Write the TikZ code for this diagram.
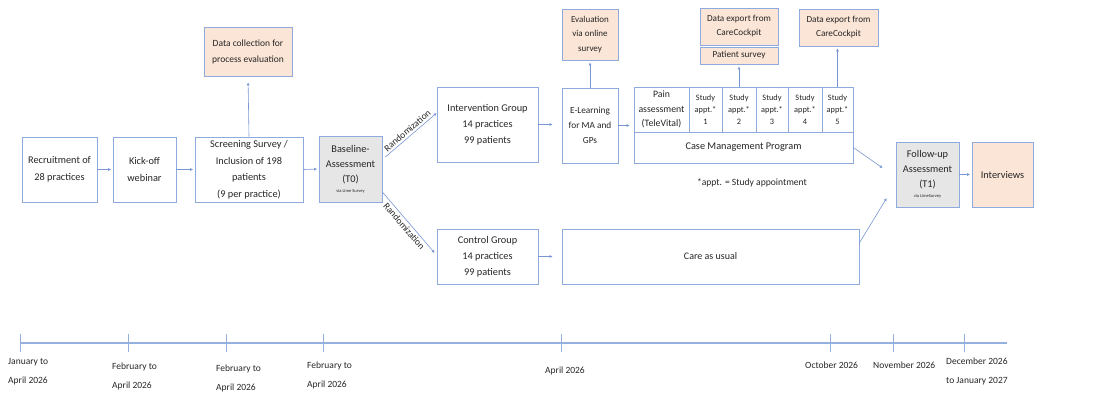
\documentclass[tikz,border=0pt]{standalone}
\usepackage{fontspec}
\setmainfont{Carlito}
\usetikzlibrary{arrows.meta}
\definecolor{bcol}{RGB}{143,170,220}
\definecolor{acol}{RGB}{68,114,196}
\definecolor{lcol}{RGB}{120,150,210}
\definecolor{peach}{RGB}{251,229,214}
\definecolor{grayf}{RGB}{231,230,230}
\definecolor{txt}{RGB}{38,38,38}
\definecolor{tlcol}{RGB}{150,176,222}
\newcommand\fsz[2]{\fontsize{#1}{#2}\selectfont}
\begin{document}
\begin{tikzpicture}[x=1pt,y=-1pt,
  box/.style={draw=bcol, line width=0.7pt, fill=white, align=center, inner sep=0pt, text=txt, font=\fsz{10.3}{16.5}},
  peachbox/.style={box, fill=peach},
  graybox/.style={box, fill=grayf},
  arr/.style={draw=lcol, line width=0.6pt, -{Latex[length=3pt,width=3pt]}, shorten >=1.5pt},
  tick/.style={draw=tlcol, line width=0.6pt},
  tlab/.style={anchor=north west, align=left, inner sep=0pt, text=txt, font=\fsz{9.5}{19}},
  rlab/.style={sloped, text=txt, font=\fsz{9.5}{11}, inner sep=2pt}
]
\useasboundingbox (0,0) rectangle (1115,394);

% main boxes
\node[box, minimum width=75pt, minimum height=65pt] (rec) at (59.5,169.5) {Recruitment of\\28 practices};
\node[box, minimum width=63pt, minimum height=65pt] (kick) at (144.5,169.5) {Kick-off\\webinar};
\node[box, minimum width=108pt, minimum height=65pt] (screen) at (249,169.5) {Screening Survey /\\Inclusion of 198\\patients\\(9 per practice)};
\node[peachbox, minimum width=88pt, minimum height=49pt, font=\fsz{9.5}{16}] (data1) at (248,51.5) {Data collection for\\process evaluation};
\node[graybox, minimum width=63pt, minimum height=66pt, font=\fsz{10.3}{15}] (base) at (350.5,169) {Baseline-\\Assessment\\(T0)\\[-5pt]{\fsz{4.5}{6}via Lime Survey}};
\node[box, minimum width=101pt, minimum height=75pt, font=\fsz{10.3}{16}] (interv) at (487.5,124.5) {Intervention Group\\14 practices\\99 patients};
\node[box, minimum width=101pt, minimum height=55pt, font=\fsz{10.3}{16}] (ctrl) at (487.5,256.5) {Control Group\\14 practices\\99 patients};

% intervention path
\node[peachbox, minimum width=56pt, minimum height=51pt, font=\fsz{9}{14.5}] (eval) at (590,34.5) {Evaluation\\via online\\survey};
\node[box, minimum width=56pt, minimum height=75pt, font=\fsz{9.3}{15}] (elearn) at (590,125.5) {E-Learning\\for MA and\\GPs};
\node[box, minimum width=55pt, minimum height=45pt, font=\fsz{9.8}{14.5}] (pain) at (661.5,109.5) {Pain\\assessment\\(TeleVital)};
\node[box, minimum width=33pt, minimum height=45pt, font=\fsz{8.3}{12}] (a1) at (705.5,109.5) {Study\\appt.*\\1};
\node[box, minimum width=34pt, minimum height=45pt, font=\fsz{8.3}{12}] (a2) at (739,109.5) {Study\\appt.*\\2};
\node[box, minimum width=32pt, minimum height=45pt, font=\fsz{8.3}{12}] (a3) at (772,109.5) {Study\\appt.*\\3};
\node[box, minimum width=34pt, minimum height=45pt, font=\fsz{8.3}{12}] (a4) at (805,109.5) {Study\\appt.*\\4};
\node[box, minimum width=31pt, minimum height=45pt, font=\fsz{8.3}{12}] (a5) at (837.5,109.5) {Study\\appt.*\\5};
\node[box, minimum width=219pt, minimum height=31pt] (cmp) at (743.5,147.5) {Case Management Program};
\node[peachbox, minimum width=78pt, minimum height=37pt, font=\fsz{9.2}{14}] (dexp1) at (739,26.5) {Data export from\\CareCockpit};
\node[peachbox, minimum width=78pt, minimum height=17pt, font=\fsz{9.2}{14}] (psurv) at (739,55.5) {Patient survey};
\node[peachbox, minimum width=79pt, minimum height=37pt, font=\fsz{9.2}{14}] (dexp2) at (838.5,27.5) {Data export from\\CareCockpit};
\node[text=txt, font=\fsz{9.6}{12}, inner sep=0pt] (note) at (752,183) {*appt. = Study appointment};

% control path
\node[box, minimum width=297pt, minimum height=55pt, font=\fsz{10}{14}] (care) at (710.5,256.5) {Care as usual};

% end
\node[graybox, minimum width=63pt, minimum height=65pt, font=\fsz{10.3}{15}] (fu) at (927.5,174.5) {Follow-up\\Assessment\\(T1)\\[-5pt]{\fsz{4.5}{6}via LimeSurvey}};
\node[peachbox, minimum width=61pt, minimum height=65pt] (intv) at (1002.5,174.5) {Interviews};

% connectors
\draw[arr] (rec.east) -- (kick.west);
\draw[arr] (kick.east) -- (screen.west);
\draw[arr, shorten >=6pt] (screen.north) -- (data1.south);
\draw[arr] (screen.east) -- (base.west);
\draw[arr, shorten >=0pt] ([xshift=3pt,yshift=12pt]base.east) -- node[rlab, above] {Randomization} ([yshift=11.5pt]interv.west);
\draw[arr, shorten >=0pt] ([yshift=-23pt]base.east) -- node[rlab, below] {Randomization} ([xshift=-2pt,yshift=3.5pt]ctrl.west);
\draw[arr, shorten >=9pt] (interv.east) -- (interv.east -| elearn.west);
\draw[arr, shorten >=9pt] (ctrl.east) -- (care.west);
\draw[arr, shorten >=2pt] (elearn.north) -- (eval.south);
\draw[arr, shorten >=4pt] (elearn.east) -- (elearn.east -| pain.west);
\draw[arr, shorten >=2pt] (a2.north) -- (psurv.south);
\draw[arr, shorten >=2pt] (a5.north) -- (a5.north |- dexp2.south);
\draw[arr, shorten >=0pt] (cmp.east) -- ([xshift=-13pt,yshift=6.5pt]fu.west);
\draw[arr, shorten >=0pt] ([yshift=13.5pt]care.east) -- ([xshift=-9pt,yshift=-23.5pt]fu.west);
\draw[arr] (fu.east) -- (intv.west);

% timeline
\draw[draw=tlcol, line width=1.3pt] (20,343) -- (1007,343);
\foreach \x in {20,128,226,323,561,830,893,964} \draw[tick] (\x,334) -- (\x,352);
\node[tlab] (l1) at (8,358) {January to\\April 2026};
\node[tlab] (l2) at (112,363) {February to\\April 2026};
\node[tlab] (l3) at (216,365) {February to\\April 2026};
\node[tlab] (l4) at (307,362) {February to\\April 2026};
\node[tlab] (l5) at (545,367) {April 2026};
\node[tlab] (l6) at (805,362) {October 2026};
\node[tlab] (l7) at (873,362) {November 2026};
\node[tlab] (l8) at (946,358) {December 2026\\to January 2027};
\end{tikzpicture}
\end{document}
